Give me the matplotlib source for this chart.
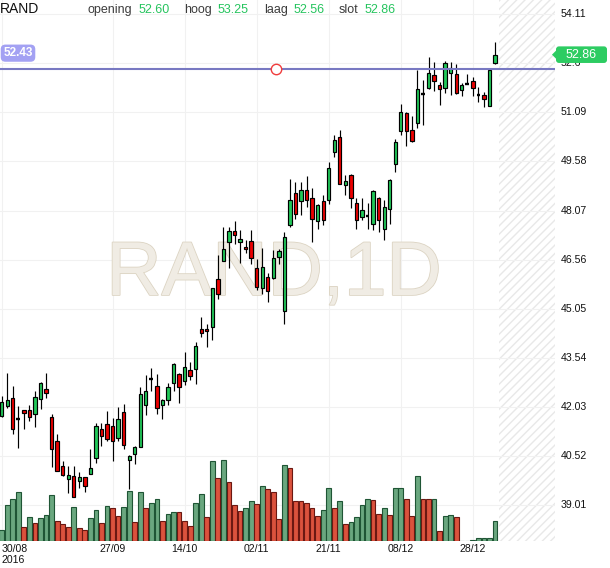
import matplotlib
matplotlib.use('Agg')
import matplotlib.pyplot as plt
import matplotlib.patches as mpatches
import matplotlib.patheffects as pe
from matplotlib.transforms import Affine2D, blended_transform_factory
import numpy as np

plt.rcParams['font.family'] = ['Liberation Sans', 'DejaVu Sans']

# ---------------- data ----------------
symbol = 'RAND'
interval = '1D'

opens = [41.77, 42.05, 42.31, 41.65, 41.94, 41.94, 41.83, 42.28, 42.58, 41.73,
         40.99, 40.23, 39.83, 39.92, 39.77, 39.87, 39.98, 40.47, 41.36, 41.51,
         41.45, 41.07, 41.89, 40.41, 40.59, 40.81, 42.10, 42.88, 42.69, 42.08,
         42.26, 42.77, 43.05, 42.84, 43.16, 43.20, 44.42, 44.42, 44.50, 45.98,
         46.53, 47.09, 47.44, 47.09, 46.95, 47.12, 46.29, 45.68, 46.04, 46.01,
         46.63, 44.98, 47.64, 48.62, 48.35, 48.69, 48.46, 47.74, 48.35, 48.40,
         49.86, 50.34, 48.86, 49.17, 48.31, 47.87, 47.90, 47.67, 48.46, 47.49,
         48.13, 49.49, 50.50, 51.07, 50.53, 50.76, 51.66, 51.85, 52.24, 51.92,
         51.83, 52.29, 52.26, 51.77, 51.97, 52.06, 51.62, 51.62, 51.27, 52.60]
highs = [42.36, 43.07, 42.69, 42.05, 41.94, 42.09, 42.51, 42.80, 43.07, 41.83,
         41.19, 40.36, 40.21, 40.21, 40.04, 39.89, 40.73, 41.54, 41.54, 41.90,
         41.70, 42.02, 42.12, 40.56, 40.83, 42.64, 43.02, 43.23, 43.04, 42.27,
         42.77, 43.38, 43.07, 43.71, 43.41, 44.04, 44.79, 44.59, 45.68, 46.70,
         47.57, 47.57, 47.75, 47.46, 47.16, 47.46, 46.57, 46.92, 46.16, 46.87,
         46.90, 47.41, 49.05, 48.94, 48.96, 49.14, 48.77, 48.28, 48.54, 49.56,
         50.40, 50.55, 49.15, 49.20, 48.45, 48.46, 48.30, 48.71, 48.50, 48.40,
         49.05, 50.27, 51.34, 51.09, 50.97, 52.38, 52.08, 52.79, 52.64, 52.03,
         52.67, 52.62, 52.57, 52.00, 52.28, 52.16, 51.87, 51.70, 52.44, 53.25]
lows = [41.73, 42.00, 41.19, 40.78, 41.36, 41.59, 41.41, 41.97, 42.30, 40.20,
        40.07, 39.91, 39.40, 39.26, 39.55, 39.42, 39.96, 40.32, 40.83, 41.00,
        40.37, 40.98, 40.75, 39.52, 40.29, 40.81, 41.79, 42.51, 41.81, 41.65,
        42.08, 42.51, 42.16, 42.72, 42.87, 42.74, 44.18, 43.89, 44.10, 45.34,
        46.53, 46.31, 47.03, 46.46, 46.75, 46.44, 45.63, 45.49, 45.25, 45.98,
        46.42, 44.57, 47.57, 47.82, 47.92, 48.18, 47.11, 47.49, 47.62, 48.26,
        49.71, 48.89, 48.54, 48.16, 47.51, 47.77, 47.51, 47.46, 47.41, 47.18,
        47.65, 49.25, 50.39, 50.05, 50.17, 50.61, 50.70, 51.82, 51.73, 51.31,
        51.67, 51.62, 51.65, 51.58, 51.96, 51.60, 51.42, 51.24, 51.27, 52.56]
closes = [42.20, 42.25, 41.36, 41.65, 41.85, 41.73, 42.34, 42.77, 42.46, 40.75,
          40.07, 39.95, 39.95, 39.28, 39.87, 39.61, 40.17, 41.46, 41.13, 41.05,
          40.99, 41.66, 40.87, 40.53, 40.79, 42.44, 42.52, 42.88, 42.00, 42.25,
          42.64, 43.35, 42.64, 43.26, 42.99, 43.91, 44.30, 44.36, 45.68, 45.49,
          46.90, 47.44, 47.31, 47.21, 46.90, 46.60, 45.71, 46.32, 45.60, 46.60,
          46.83, 47.26, 48.38, 47.95, 48.69, 48.40, 47.82, 48.23, 47.77, 49.38,
          50.24, 48.89, 48.98, 48.45, 47.77, 48.08, 47.90, 48.66, 47.79, 48.18,
          49.02, 50.17, 51.11, 50.50, 50.22, 51.80, 51.66, 52.31, 52.06, 51.80,
          52.60, 52.45, 51.67, 51.92, 51.97, 51.83, 51.62, 51.50, 52.38, 52.86]
volumes = [11, 36, 41.7, 48.7, 13.7, 23.7, 17.7, 22.7, 26, 46,
           19.7, 17, 13.7, 33.7, 12.7, 10.7, 22.7, 30.7, 18, 35,
           32.7, 25, 33.7, 49.7, 18.7, 48.7, 32.7, 37.7, 41.7, 19.7,
           27.3, 28.7, 28.7, 20.3, 15.3, 38.3, 47.3, 24.3, 80.3, 63.3,
           81.3, 59.3, 35.7, 30.3, 33.3, 40.3, 37.3, 55.3, 52.3, 49.3,
           22.3, 76.3, 73.3, 40.3, 40.3, 38.3, 33.3, 25.3, 31.3, 53.3,
           33.3, 40.3, 17.3, 18.7, 24.3, 36.3, 42.3, 41.3, 27.3, 33.3,
           26.3, 53.3, 53.3, 42.3, 25.3, 64.7, 42.3, 42.3, 42.3, 10.3,
           25.3, 26.3, 24.3, 0, 0.5, 1.3, 3.3, 3.3, 3.3, 20.3]
volume_up = [1, 1, 1, 1, 0, 1, 0, 1, 1, 1,
             0, 0, 0, 1, 0, 0, 1, 1, 0, 1,
             0, 0, 1, 1, 0, 1, 0, 1, 1, 0,
             1, 1, 0, 0, 0, 1, 1, 0, 1, 0,
             1, 0, 0, 0, 1, 1, 0, 1, 0, 0,
             0, 1, 0, 0, 0, 0, 0, 0, 1, 1,
             0, 1, 0, 1, 1, 1, 1, 0, 0, 1,
             0, 1, 1, 0, 0, 1, 0, 0, 1, 0,
             1, 1, 0, 1, 1, 1, 1, 1, 1, 1]

date_tick_idx = [0, 20, 33, 46, 59, 72, 85]
date_tick_labels = ['30/08\n2016', '27/09', '14/10', '02/11', '21/11', '08/12', '28/12']
price_ticks = [54.11, 52.60, 51.09, 49.58, 48.07, 46.56, 45.05, 43.54, 42.03, 40.52, 39.01]
price_tick_labels = ['54.11', '52.6', '51.09', '49.58', '48.07', '46.56',
                     '45.05', '43.54', '42.03', '40.52', '39.01']
hline_price = 52.43
hline_marker_idx = 49.5
header_labels = ['opening', 'hoog', 'laag', 'slot']
header_values = [52.60, 53.25, 52.56, 52.86]

# ---------------- style ----------------
W, H = 610, 568
GREEN = '#22c95a'
RED = '#ec0000'
VOL_G, VOL_G_E = '#6aa77f', '#1f5535'
VOL_R, VOL_R_E = '#db523d', '#6b1812'

fig = plt.figure(figsize=(W / 100, H / 100), dpi=100)
fig.patch.set_facecolor('white')
px = Affine2D().scale(1 / W, -1 / H).translate(0, 1) + fig.transFigure

ax = fig.add_axes([0, 27 / H, 555 / W, 541 / H])
n = len(closes)
x = np.arange(n)
o = np.array(opens); h = np.array(highs); l = np.array(lows); c = np.array(closes)

ax.set_xlim(-0.307, 99.82)
ax.set_ylim(37.915, 54.54)
for s in ax.spines.values():
    s.set_visible(False)
ax.set_yticks([])

# grid
for t in price_ticks:
    ax.axhline(t, color='#f1f1f1', lw=0.8, zorder=0.6)
for d in date_tick_idx:
    ax.axvline(d, color='#f1f1f1', lw=0.8, zorder=0.6)

# future hatched area
ax.axvspan(n - 0.3, 101, facecolor='none', edgecolor='#e8e8e8', hatch='////',
           linewidth=0, zorder=0.5)

# watermark
ax.text(274 / 555, (541 - 295) / 541, f'{symbol},{interval}', transform=ax.transAxes,
        ha='center', va='baseline', fontsize=55, color='#f0ece4', zorder=0.7,
        path_effects=[pe.withStroke(linewidth=1.2, foreground='#dcd4c3')])

# candles
ax.vlines(x, l, h, color='black', lw=0.85, zorder=3)
up = c > o
dn = c < o
doji = c == o
bb = np.minimum(o, c)
bh = np.abs(c - o)
ax.bar(x[up], bh[up], bottom=bb[up], width=0.6, color=GREEN, edgecolor='black',
       linewidth=0.85, zorder=4)
ax.bar(x[dn], bh[dn], bottom=bb[dn], width=0.6, color=RED, edgecolor='black',
       linewidth=0.85, zorder=4)
ax.hlines(o[doji], x[doji] - 0.34, x[doji] + 0.34, color='black', lw=1.7, zorder=4)

# horizontal line + anchor
ax.axhline(hline_price, color='#7879c2', lw=1.5, zorder=5)
ax.plot([hline_marker_idx], [hline_price], 'o', ms=7.5, mfc='white', mec='#f03c3c',
        mew=1.0, zorder=6)

# price labels (right side)
ytrans = blended_transform_factory(ax.transAxes, ax.transData)
for t, lab in zip(price_ticks, price_tick_labels):
    ax.text(561 / 555, t, lab, transform=ytrans, ha='left', va='center',
            fontsize=7.6, color='#111', clip_on=False)

# date labels
ax.set_xticks(date_tick_idx)
ax.set_xticklabels(date_tick_labels)
ax.tick_params(axis='x', length=0, pad=2, labelsize=7.6, labelcolor='#111')
first = ax.get_xticklabels()[0]
first.set_ha('left')
first.set_multialignment('left')

# volume
axv = ax.twinx()
axv.set_ylim(0, 541)
axv.set_xlim(ax.get_xlim())
vu = np.array(volume_up, dtype=bool)
vol = np.array(volumes)
axv.bar(x[vu], vol[vu], width=0.86, color=VOL_G, edgecolor=VOL_G_E, linewidth=0.8)
axv.bar(x[~vu], vol[~vu], width=0.86, color=VOL_R, edgecolor=VOL_R_E, linewidth=0.8)
axv.set_axis_off()

# header
fig.text(0, 13, symbol, transform=px, fontsize=10, va='baseline', color='#111')
lab_x = [88, 184, 264, 339]
val_x = [139, 218, 294, 365]
for lx, vx, lab, val in zip(lab_x, val_x, header_labels, header_values):
    fig.text(lx, 13, lab, transform=px, fontsize=9, va='baseline', color='#3c3c3c')
    fig.text(vx, 13, f'{val:.2f}', transform=px, fontsize=9, va='baseline', color='#26c45e')

# left label for horizontal line
fig.canvas.draw()
y_line = H - ax.transData.transform((0, hline_price))[1]
fig.text(18, y_line - 15.5, f'{hline_price:.2f}', transform=px, ha='center', va='center',
         fontsize=8.5, fontweight='bold', color='white',
         bbox=dict(boxstyle='round,pad=0.22,rounding_size=0.4', fc='#a3a1f3', ec='none'))

# right label for last close
y_c = H - ax.transData.transform((0, closes[-1]))[1]
box = mpatches.FancyBboxPatch((556, y_c - 8.3), 51, 16.6,
                              boxstyle='round,pad=0,rounding_size=3',
                              transform=px, fc='#2dcc62', ec='none', zorder=10)
fig.add_artist(box)
tri = mpatches.Polygon([(552, y_c), (557, y_c - 5), (557, y_c + 5)], closed=True,
                       transform=px, fc='#2dcc62', ec='none', zorder=10)
fig.add_artist(tri)
fig.text(581, y_c, f'{closes[-1]:.2f}', transform=px, ha='center', va='center',
         fontsize=9, color='white', zorder=11)

fig.savefig('out.png', dpi=100)
